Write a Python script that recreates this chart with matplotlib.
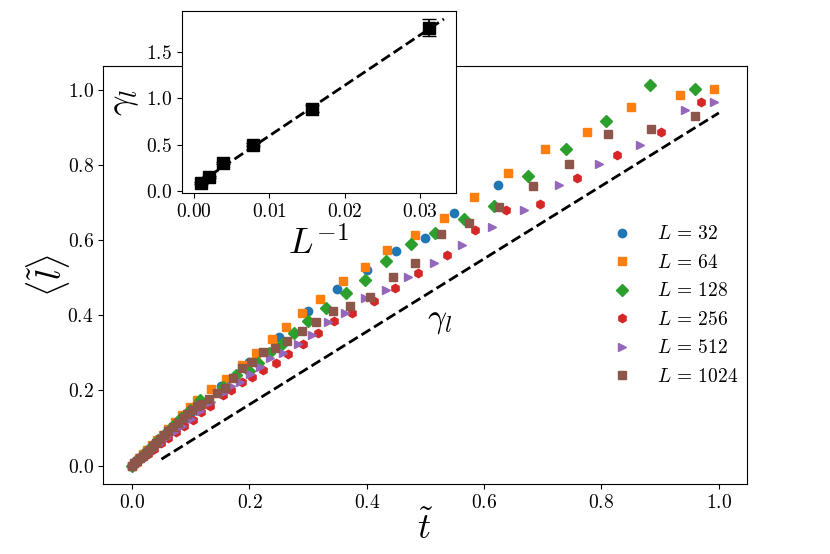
import numpy as np
import matplotlib
matplotlib.use("Agg")
import matplotlib.pyplot as plt

plt.rcParams['mathtext.fontset'] = 'cm'
plt.rcParams['font.family'] = 'serif'
plt.rcParams['font.serif'] = ['cmr10']
plt.rcParams['axes.formatter.use_mathtext'] = True

# ---- main panel: <l~> vs t~ for each system size ----
t_32 = [0.0, 0.050, 0.101, 0.152, 0.199, 0.251, 0.300, 0.350, 0.400, 0.450, 0.499, 0.549, 0.624]
l_32 = [0.0, 0.072, 0.143, 0.211, 0.276, 0.343, 0.412, 0.469, 0.520, 0.571, 0.606, 0.671, 0.747]

t_64 = [0.0, 0.006, 0.012, 0.019, 0.026, 0.034, 0.043, 0.052, 0.062, 0.073, 0.085, 0.098,
        0.111, 0.134, 0.160, 0.187, 0.211, 0.238, 0.263, 0.289, 0.320, 0.359, 0.397, 0.435,
        0.482, 0.531, 0.583, 0.640, 0.704, 0.775, 0.851, 0.934, 0.992]
l_64 = [0.0, 0.009, 0.019, 0.030, 0.041, 0.054, 0.068, 0.082, 0.098, 0.115, 0.134, 0.155,
        0.174, 0.203, 0.229, 0.267, 0.300, 0.336, 0.369, 0.406, 0.443, 0.491, 0.529, 0.573,
        0.613, 0.659, 0.715, 0.779, 0.843, 0.886, 0.953, 0.985, 1.001]

t_128 = [0.0, 0.007, 0.015, 0.024, 0.034, 0.045, 0.057, 0.070, 0.084, 0.099, 0.115, 0.155,
         0.177, 0.199, 0.215, 0.234, 0.255, 0.276, 0.300, 0.331, 0.364, 0.397, 0.433, 0.475,
         0.516, 0.565, 0.617, 0.675, 0.739, 0.808, 0.882, 0.959]
l_128 = [0.0, 0.011, 0.023, 0.036, 0.051, 0.068, 0.086, 0.105, 0.126, 0.149, 0.174, 0.208,
         0.241, 0.252, 0.272, 0.300, 0.323, 0.353, 0.385, 0.418, 0.460, 0.493, 0.545, 0.589,
         0.618, 0.657, 0.691, 0.770, 0.842, 0.917, 1.012, 1.001]

t_256 = [0.0, 0.008, 0.017, 0.027, 0.038, 0.050, 0.062, 0.075, 0.089, 0.103, 0.118, 0.132,
         0.155, 0.169, 0.187, 0.205, 0.223, 0.245, 0.266, 0.291, 0.317, 0.344, 0.374, 0.413,
         0.448, 0.487, 0.536, 0.584, 0.637, 0.695, 0.758, 0.826, 0.901, 0.969]
l_256 = [0.0, 0.009, 0.020, 0.032, 0.045, 0.059, 0.073, 0.089, 0.105, 0.122, 0.142, 0.158,
         0.189, 0.201, 0.223, 0.236, 0.254, 0.272, 0.297, 0.322, 0.352, 0.385, 0.406, 0.438,
         0.471, 0.511, 0.560, 0.626, 0.681, 0.695, 0.766, 0.827, 0.887, 0.966]

t_512 = [0.0, 0.008, 0.016, 0.025, 0.035, 0.046, 0.058, 0.071, 0.085, 0.100, 0.116, 0.135,
         0.155, 0.169, 0.184, 0.201, 0.218, 0.235, 0.257, 0.283, 0.306, 0.334, 0.363, 0.397,
         0.433, 0.470, 0.515, 0.562, 0.613, 0.668, 0.728, 0.795, 0.866, 0.943, 0.991]
l_512 = [0.0, 0.010, 0.020, 0.031, 0.044, 0.058, 0.073, 0.089, 0.106, 0.125, 0.145, 0.169,
         0.192, 0.211, 0.223, 0.243, 0.263, 0.285, 0.300, 0.323, 0.347, 0.382, 0.406, 0.445,
         0.467, 0.501, 0.538, 0.586, 0.635, 0.680, 0.747, 0.803, 0.853, 0.945, 0.967]

t_1024 = [0.0, 0.004, 0.008, 0.013, 0.018, 0.023, 0.029, 0.035, 0.041, 0.048, 0.055, 0.062,
          0.070, 0.078, 0.086, 0.094, 0.102, 0.110, 0.118, 0.131, 0.144, 0.158, 0.172, 0.187,
          0.204, 0.223, 0.243, 0.264, 0.289, 0.314, 0.343, 0.372, 0.405, 0.444, 0.483, 0.527,
          0.574, 0.626, 0.683, 0.744, 0.811, 0.884, 0.959]
l_1024 = [0.0, 0.006, 0.012, 0.019, 0.026, 0.033, 0.042, 0.051, 0.060, 0.070, 0.080, 0.091,
          0.102, 0.114, 0.126, 0.137, 0.148, 0.158, 0.164, 0.176, 0.194, 0.207, 0.232, 0.259,
          0.276, 0.301, 0.312, 0.332, 0.359, 0.382, 0.411, 0.424, 0.449, 0.501, 0.538, 0.616,
          0.646, 0.687, 0.743, 0.801, 0.882, 0.895, 0.930]

# reference slope line gamma_l
t_gamma = [0.05, 1.0]
l_gamma = [0.017, 0.938]

# ---- inset: gamma_l vs 1/L ----
inv_L = [1/32, 1/64, 1/128, 1/256, 1/512, 1/1024]
gamma_l = [1.765, 0.89, 0.50, 0.30, 0.15, 0.08]
gamma_err = [0.09, 0.035, 0.02, 0.015, 0.012, 0.01]
fit_x = [0.0005, 0.0332]
fit_y = [0.077, 1.86]

series = [
    (t_32, l_32, 'o', 'C0', r'$L\,=\,32$'),
    (t_64, l_64, 's', 'C1', r'$L\,=\,64$'),
    (t_128, l_128, 'D', 'C2', r'$L\,=\,128$'),
    (t_256, l_256, 'h', 'C3', r'$L\,=\,256$'),
    (t_512, l_512, '>', 'C4', r'$L\,=\,512$'),
    (t_1024, l_1024, 's', 'C5', r'$L\,=\,1024$'),
]

fig = plt.figure(figsize=(8.3, 5.54), dpi=100)
ax = fig.add_axes([0.1245, 0.1264, 0.7755, 0.7546])

for t, l, m, c, lab in series:
    ax.plot(t, l, m, color=c, markersize=6, linestyle='', label=lab)
ax.plot(t_gamma, l_gamma, '--', color='black', lw=2)
ax.text(0.525, 0.382, r'$\gamma_l$', fontsize=24, ha='center', va='center')

ax.set_xlim(-0.049, 1.048)
ax.set_ylim(-0.049, 1.063)
ax.set_xticks([0.0, 0.2, 0.4, 0.6, 0.8, 1.0])
ax.set_yticks([0.0, 0.2, 0.4, 0.6, 0.8, 1.0])
ax.tick_params(labelsize=14)
ax.set_xlabel(r'$\tilde{t}$', fontsize=26, labelpad=-1)
ax.set_ylabel(r'$\langle \tilde{l} \rangle$', fontsize=26, labelpad=-3)

ax.legend(loc='upper left', bbox_to_anchor=(0.763, 0.637), borderaxespad=0,
          frameon=False, fontsize=14, labelspacing=0.54)

# inset
axin = fig.add_axes([0.2193, 0.651, 0.3301, 0.3297])
axin.errorbar(inv_L, gamma_l, yerr=gamma_err, fmt='s', color='black',
              markersize=8, capsize=5, elinewidth=1.2)
axin.plot(fit_x, fit_y, '--', color='black', lw=2)
axin.set_xlim(-0.0016, 0.0348)
axin.set_ylim(-0.028, 1.95)
axin.set_xticks([0.0, 0.01, 0.02, 0.03])
axin.set_yticks([0.0, 0.5, 1.0, 1.5])
axin.tick_params(labelsize=14)
axin.set_xlabel(r'$L^{-1}$', fontsize=26)
axin.set_ylabel(r'$\gamma_l$', fontsize=26)

fig.savefig('out.png', dpi=100)
